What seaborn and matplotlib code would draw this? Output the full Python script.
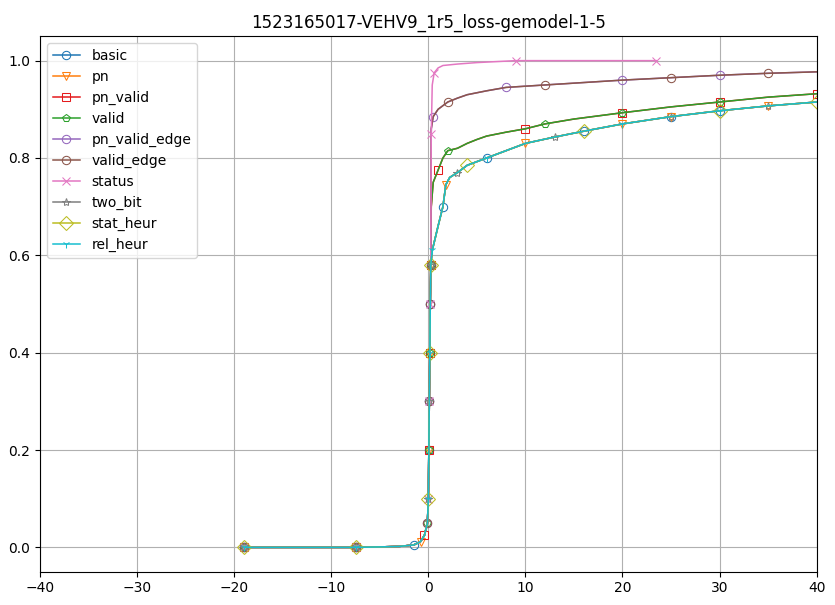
import matplotlib
matplotlib.use("Agg")
import matplotlib.pyplot as plt
import seaborn as sns

# knots of the CDF curves
x_low = [-19, -7.5, -5, -3, -1.5, -0.8, -0.4, -0.1, 0.0, 0.05, 0.1, 0.15, 0.2, 0.25]
y_low = [0.0, 0.0, 0.001, 0.002, 0.005, 0.012, 0.025, 0.05, 0.1, 0.2, 0.3, 0.4, 0.5, 0.58]

x_basic = x_low + [0.4, 0.7, 1.0, 1.5, 1.8, 2.2, 3, 4, 6, 8, 10, 13, 16, 20, 25, 30, 35, 40]
y_basic = y_low + [0.61, 0.635, 0.66, 0.70, 0.745, 0.76, 0.77, 0.785, 0.80, 0.815, 0.83, 0.843, 0.855, 0.87, 0.885, 0.897, 0.907, 0.915]

x_valid = x_low + [0.3, 0.5, 1.0, 1.5, 2, 3, 4, 5, 6, 8, 10, 12, 15, 20, 25, 30, 35, 40]
y_valid = y_low + [0.70, 0.75, 0.775, 0.80, 0.815, 0.82, 0.83, 0.838, 0.845, 0.853, 0.86, 0.87, 0.88, 0.893, 0.905, 0.915, 0.925, 0.932]

x_edge = x_low + [0.3, 0.5, 1.0, 2, 3, 4, 6, 8, 12, 16, 20, 25, 30, 35, 40]
y_edge = y_low + [0.86, 0.885, 0.90, 0.915, 0.923, 0.93, 0.938, 0.945, 0.95, 0.955, 0.96, 0.965, 0.97, 0.974, 0.977]

x_status = x_low + [0.3, 0.4, 0.6, 1.0, 1.5, 3, 5, 9, 15, 23.5]
y_status = y_low + [0.85, 0.95, 0.975, 0.985, 0.99, 0.993, 0.996, 1.0, 1.0, 1.0]

series = {
    "basic": (x_basic, y_basic, "o"),
    "pn": (x_basic, y_basic, "v"),
    "pn_valid": (x_valid, y_valid, "s"),
    "valid": (x_valid, y_valid, "p"),
    "pn_valid_edge": (x_edge, y_edge, "o"),
    "valid_edge": (x_edge, y_edge, "o"),
    "status": (x_status, y_status, "x"),
    "two_bit": (x_basic, y_basic, "*"),
    "stat_heur": (x_basic, y_basic, "D"),
    "rel_heur": (x_basic, y_basic, "1"),
}

fig, ax = plt.subplots(figsize=(8.35, 6.05), dpi=100)
pal = sns.color_palette("tab10")
colors = [pal[0], pal[1], "#e41a1c", pal[2], pal[4], pal[5], pal[6], pal[7], pal[8], pal[9]]
for i, (name, (xs, ys, m)) in enumerate(series.items()):
    sns.lineplot(x=xs, y=ys, sort=False, ax=ax, label=name, color=colors[i],
                 marker=m, markerfacecolor="none", markeredgecolor=colors[i],
                 markersize=7 if m == "D" else 6, linewidth=1.1,
                 markevery=0.09 + 0.004 * i)

ax.set_xlim(-40, 40)
ax.set_ylim(-0.05, 1.05)
ax.set_title("1523165017-VEHV9_1r5_loss-gemodel-1-5")
ax.grid(True)
ax.legend(loc="upper left")
fig.subplots_adjust(left=0.048, right=0.978, bottom=0.055, top=0.94)
fig.savefig("out.png")
